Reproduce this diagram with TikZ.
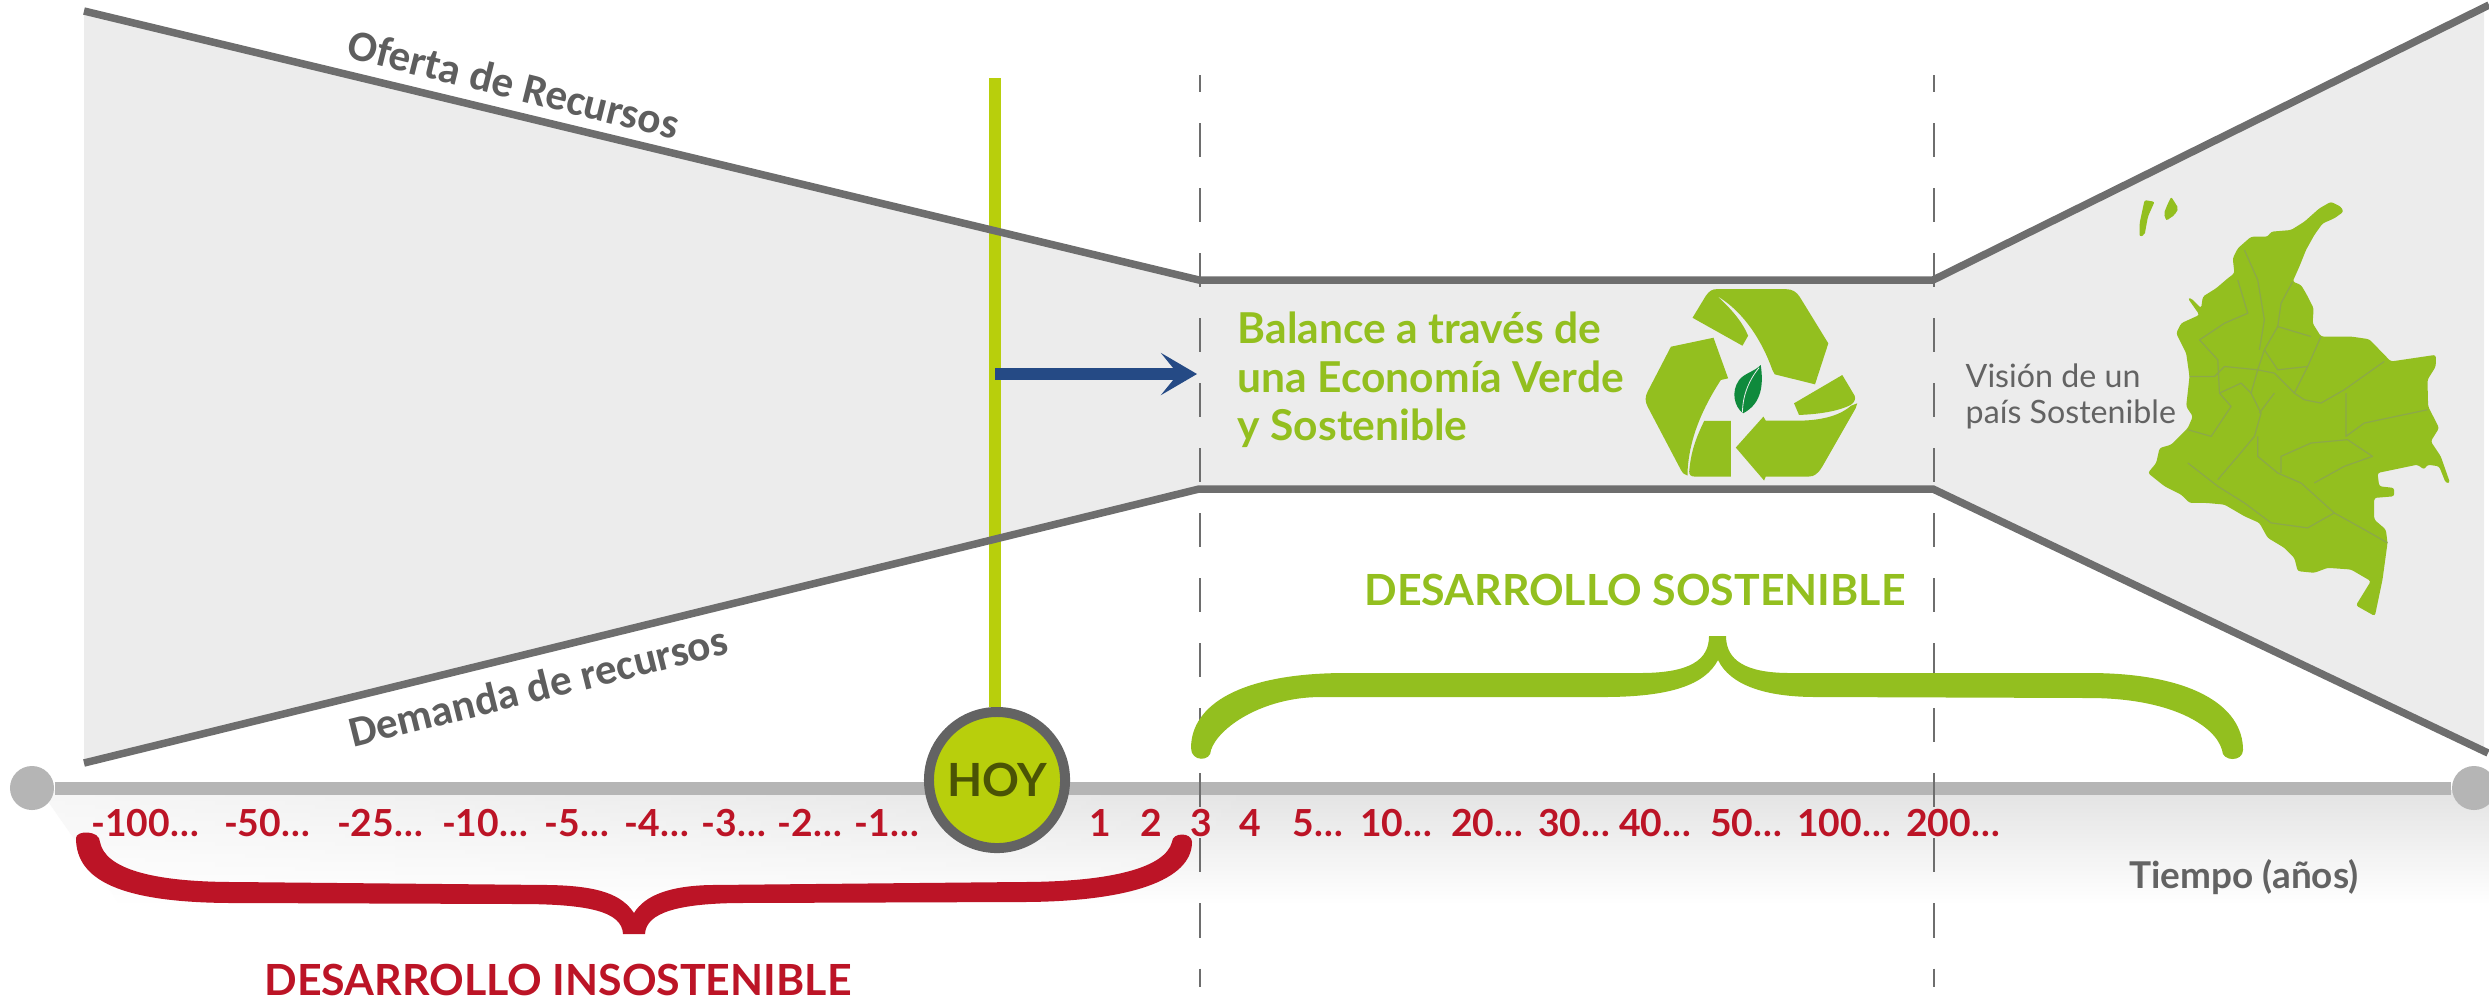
\documentclass[tikz,border=0pt]{standalone}
\usepackage{fontspec}
\setmainfont{Lato}
\newfontfamily\carlitofont{Carlito}
\usetikzlibrary{arrows.meta,fadings}

\definecolor{fondo}{HTML}{ECECEC}
\definecolor{limite}{HTML}{6E6E6E}
\definecolor{verde}{HTML}{93BF1F}
\definecolor{verdehoy}{HTML}{B8CF0C}
\definecolor{verdehoja}{HTML}{0F8A3C}
\definecolor{rojo}{HTML}{BC1426}
\definecolor{azul}{HTML}{254A85}
\definecolor{eje}{HTML}{B5B5B5}
\definecolor{frontera}{HTML}{8CA84A}

\tikzset{
    limite/.style={draw=limite, line width=0.075cm},
    corte/.style={draw=limite, line width=0.022cm, dash pattern=on 0.34cm off 0.31cm, dash phase=0.17cm},
    ejedot/.style={circle, fill=eje, minimum size=0.44cm, inner sep=0pt},
    tiempo/.style={text=rojo, font=\bfseries\fontsize{10.6pt}{12pt}\selectfont, inner sep=0pt},
    recurso/.style={text=limite!85!black, font=\carlitofont\bfseries\fontsize{12.3pt}{14pt}\selectfont, inner sep=0pt},
    titulo/.style={font=\bfseries\fontsize{12.2pt}{15pt}\selectfont, inner sep=0pt},
    balance/.style={anchor=base west, text=verde, font=\bfseries\fontsize{12.1pt}{13.8pt}\selectfont, inner sep=0pt},
    vision/.style={anchor=base west, text=limite!90!black, font=\fontsize{9.15pt}{11pt}\selectfont, inner sep=0pt},
    flecha/.style={fill=verde},
    dpto/.style={draw=frontera, line width=0.012cm, line join=round},
}

\begin{document}
\begin{tikzpicture}[x=0.01cm, y=-0.01cm]
    \useasboundingbox (0,0) rectangle (2489,1002);

    % Zona gris
    \coordinate (ofa) at (84,11);
    \coordinate (ofb) at (1199,280);
    \coordinate (ofc) at (1933,280);
    \coordinate (ofd) at (2489,5);
    \coordinate (dea) at (84,763);
    \coordinate (deb) at (1199,489);
    \coordinate (dec) at (1933,489);
    \coordinate (ded) at (2488,753);
    \fill[fondo] (ofa) -- (ofb) -- (ofc) -- (2484,8) -- (2484,751) -- (dec) -- (deb) -- (dea) -- cycle;

    % Sombra bajo el eje
    \shade[top color=black!11, bottom color=white] (40,790) -- (2489,790) -- (2489,905) -- (120,905) -- cycle;
    \fill[white, opacity=0.7, path fading=east] (30,790) rectangle (1300,905);

    % Eje
    \node[ejedot] (ini) at (32,788) {};
    \node[ejedot] (fin) at (2474,788) {};
    \draw[eje, line width=0.13cm] (ini) -- (fin);

    % Hoy
    \node[circle, draw=limite!90!black, fill=verdehoy, line width=0.1cm, minimum size=1.36cm, inner sep=0pt,
        text=verdehoy!40!black, font=\bfseries\fontsize{13pt}{15pt}\selectfont] (hoy) at (997,780) {HOY};
    \coordinate (hoytop) at (995,78);
    \draw[verdehoy, line width=0.12cm] (hoytop) -- (hoytop |- hoy.north);

    % Lineas de oferta y demanda
    \draw[limite] (ofa) -- (ofb) -- (ofc) -- (ofd);
    \draw[limite] (dea) -- (deb) -- (dec) -- (ded);

    % Cortes
    \foreach \xc/\nombre in {1200/tres, 1934/dos}{
        \coordinate (\nombre a) at (\xc,75);
        \coordinate (\nombre b) at (\xc,987);
        \draw[corte] (\nombre a) -- (\nombre b);
    }

    % Flecha
    \coordinate (fa) at (995,374);
    \coordinate (fb) at (1197,374);
    \draw[azul, line width=0.12cm, -{Stealth[length=0.36cm, width=0.42cm, inset=0.17cm]}] (fa) -- (fb);

    % Textos
    \node[recurso, rotate=-14] (oferta) at (514,84) {Oferta de Recursos};
    \node[recurso, rotate=14] (demanda) at (538,686) {Demanda de recursos};
    \node[balance] (bal1) at (1237,343) {Balance a través de};
    \node[balance] (bal2) at (1237,392) {una Economía Verde};
    \node[balance] (bal3) at (1237,440) {y Sostenible};
    \node[vision] (vis1) at (1965,387) {Visión de un};
    \node[vision] (vis2) at (1965,423) {país Sostenible};
    \node[titulo, text=verde] (dsost) at (1635,590) {DESARROLLO SOSTENIBLE};
    \node[titulo, text=rojo] (dinsost) at (558,980) {DESARROLLO INSOSTENIBLE};
    \node[text=limite!90!black, font=\bfseries\fontsize{10.5pt}{12pt}\selectfont, inner sep=0pt] (anios) at (2244,877) {Tiempo (años)};

    % Escala de tiempo
    \foreach \lab/\xt in {-100…/145, -50…/267, -25…/380, -10…/485, -5…/577, -4…/657, -3…/734, -2…/810, -1…/887,
        1/1100, 2/1151, 3/1201, 4/1250, 5…/1318, 10…/1396, 20…/1487, 30…/1574, 40…/1655, 50…/1746, 100…/1844, 200…/1953}{
        \node[tiempo] (t\xt) at (\xt,823) {\lab};
    }

    % Llave roja
    \fill[rojo] (76,838) .. controls (76,880) and (120,903) .. (235,903) -- (520,904)
        .. controls (590,904) and (622,912) .. (623,934) -- (645,934)
        .. controls (646,912) and (680,904) .. (735,903) -- (1020,902)
        .. controls (1130,902) and (1192,880) .. (1192,842)
        .. controls (1192,832) and (1172,832) .. (1172,842)
        .. controls (1165,868) and (1110,882) .. (1020,882) -- (710,885)
        .. controls (670,886) and (645,895) .. (634,913)
        .. controls (622,895) and (600,886) .. (550,885) -- (235,882)
        .. controls (150,882) and (105,868) .. (100,842)
        .. controls (100,830) and (76,830) .. (76,838) -- cycle;

    % Llave verde
    \fill[verde] (1191,748) .. controls (1191,705) and (1240,673) .. (1346,673) -- (1640,673)
        .. controls (1690,673) and (1709,660) .. (1709,636) -- (1726,636)
        .. controls (1726,660) and (1745,673) .. (1790,673) -- (2089,673)
        .. controls (2190,673) and (2243,705) .. (2243,750)
        .. controls (2243,762) and (2222,762) .. (2222,750)
        .. controls (2215,725) and (2170,698) .. (2089,698) -- (1816,697)
        .. controls (1765,697) and (1730,685) .. (1718,660)
        .. controls (1705,685) and (1670,697) .. (1603,697) -- (1321,697)
        .. controls (1262,697) and (1218,728) .. (1211,750)
        .. controls (1211,762) and (1191,762) .. (1191,748) -- cycle;

    % Logo de reciclaje
    \begin{scope}[shift={(16.3cm,-2.75cm)}, x=0.00333cm, y=-0.00333cm]
        \fill[flecha] (185,128) -- (225,62) .. controls (235,47) and (245,42) .. (258,42) -- (465,42)
            .. controls (485,42) and (497,50) .. (507,65) -- (593,205) -- (553,328) -- (432,298) -- (425,285)
            .. controls (395,200) and (340,110) .. (258,62)
            .. controls (300,100) and (335,140) .. (352,182) -- (335,212) -- cycle;
        \fill[flecha] (120,215) -- (248,188) -- (292,310) -- (270,315)
            .. controls (215,400) and (175,490) .. (170,590) -- (170,602)
            .. controls (160,600) and (156,595) .. (150,585) -- (50,395)
            .. controls (42,380) and (42,365) .. (50,350) -- cycle;
        \fill[flecha] (220,438) -- (300,438) -- (300,605) -- (190,605)
            .. controls (180,605) and (175,600) .. (175,590)
            .. controls (180,530) and (195,490) .. (220,438) -- cycle;
        \fill[flecha] (315,518) -- (398,425) -- (405,437) -- (515,437)
            .. controls (580,435) and (630,420) .. (662,392) -- (680,385)
            .. controls (680,392) and (680,392) .. (675,400) -- (575,575)
            .. controls (562,597) and (550,605) .. (535,605) -- (405,605) -- (400,617) -- cycle;
        \fill[flecha] (490,385) -- (635,300) -- (672,362)
            .. controls (676,372) and (672,382) .. (660,390)
            .. controls (620,410) and (560,418) .. (505,420) -- cycle;
        % Hoja
        \fill[verdehoja] (390,270) .. controls (398,325) and (395,385) .. (337,415)
            .. controls (310,395) and (300,350) .. (325,315) .. controls (340,295) and (370,290) .. cycle;
        \draw[fondo, line width=0.008cm] (335,412) .. controls (335,370) and (350,320) .. (385,278);
    \end{scope}

    % Mapa
    \begin{scope}[shift={(21.3cm,-1.8cm)}, x=0.00333cm, y=-0.00333cm]
        \fill[verde, rounded corners=0.025cm] (600,65) -- (630,80) -- (638,95) -- (610,115) -- (575,130) -- (550,165) -- (525,210) -- (505,260)
            -- (485,305) -- (510,315) -- (525,340) -- (548,385) -- (545,430) -- (570,470) -- (660,470) -- (715,478)
            -- (780,545) -- (915,525) -- (915,560) -- (890,600) -- (892,680) -- (925,745) -- (900,785) -- (930,830)
            -- (958,910) -- (945,910) -- (925,860) -- (890,855) -- (880,870) -- (860,855) -- (740,880) -- (745,920)
            -- (790,925) -- (790,950) -- (730,955) -- (730,1020) -- (765,1050) -- (770,1090) -- (755,1200) -- (732,1310)
            -- (675,1278) -- (720,1205) -- (660,1170) -- (590,1165) -- (550,1180) -- (500,1175) -- (490,1135) -- (460,1105)
            -- (410,1075) -- (385,1030) -- (340,1010) -- (280,975) -- (225,970) -- (175,970) -- (150,945) -- (100,920)
            -- (50,880) -- (75,850) -- (85,805) -- (120,795) -- (170,745) -- (185,710) -- (165,680) -- (175,590)
            -- (165,520) -- (145,480) -- (135,460) -- (150,430) -- (205,405) -- (170,355) -- (180,355) -- (210,385)
            -- (215,350) -- (255,325) -- (290,295) -- (310,280) -- (305,235) -- (320,205) -- (360,170) -- (410,170)
            -- (420,155) -- (480,150) -- (520,125) -- (565,85) -- cycle;
        \fill[verde, rounded corners=0.02cm] (40,60) -- (70,65) -- (50,110) -- (40,165) -- (25,170) -- (25,130) -- cycle;
        \fill[verde, rounded corners=0.02cm] (120,50) -- (142,85) -- (130,105) -- (105,122) -- (98,100) -- (108,75) -- cycle;
        % Departamentos
        \draw[dpto] (485,305) -- (450,370) -- (440,440) -- (400,510) -- (380,570) -- (360,640) -- (390,700) -- (370,770) -- (320,830) -- (260,900);
        \draw[dpto] (570,470) -- (530,560) -- (490,640) -- (520,660) -- (570,670) -- (640,630) -- (760,545);
        \draw[dpto] (645,640) -- (645,770) -- (700,730) -- (890,690);
        \draw[dpto] (380,770) -- (380,830) -- (440,880) -- (510,910) -- (610,1000) -- (700,1050) -- (770,1090);
        \draw[dpto] (450,880) -- (450,830) -- (540,790) -- (650,780) -- (725,830) -- (640,860) -- (550,910);
        \draw[dpto] (175,590) -- (250,590) -- (280,560) -- (380,570) -- (430,580) -- (490,640);
        \draw[dpto] (205,480) -- (260,540) -- (265,640) -- (300,680) -- (240,770) -- (170,750);
        \draw[dpto] (170,850) -- (260,920) -- (340,970) -- (420,1030) -- (530,1045) -- (610,1000);
        \draw[dpto] (320,300) -- (350,400) -- (280,430) -- (205,480);
        \draw[dpto] (340,210) -- (380,300) -- (400,420) -- (385,510);
        \draw[dpto] (265,640) -- (330,610) -- (360,640);
        \draw[dpto] (400,510) -- (440,570) -- (530,560);
        \draw[dpto] (385,700) -- (430,640);
        \draw[dpto] (440,440) -- (540,470);
    \end{scope}
\end{tikzpicture}
\end{document}
